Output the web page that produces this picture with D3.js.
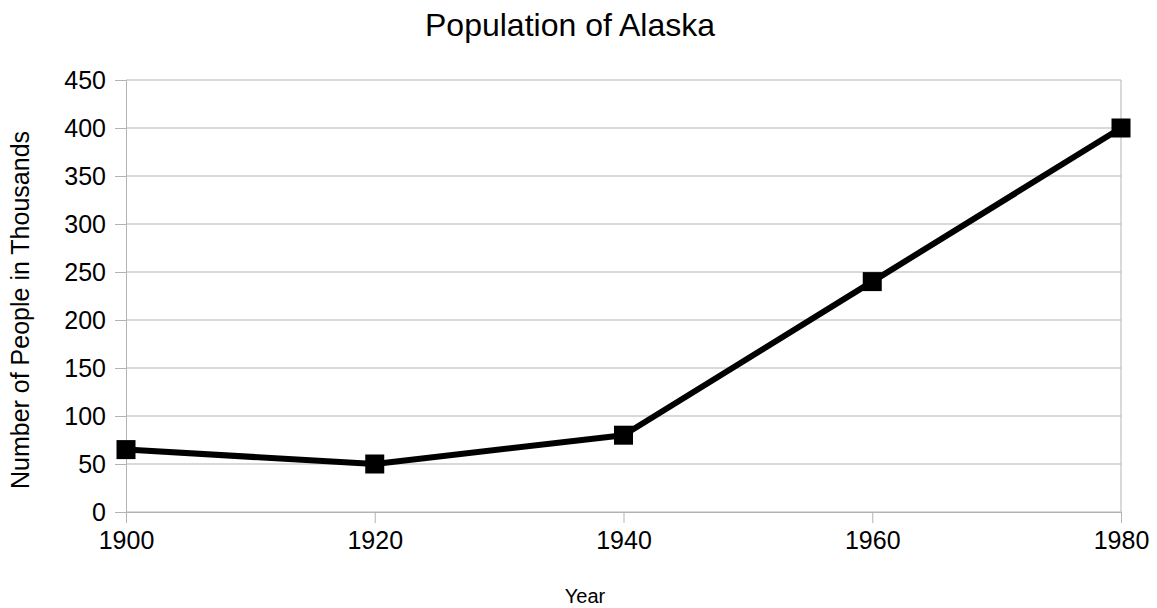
<!DOCTYPE html>
<html>
<head>
<meta charset="utf-8">
<script src="https://cdn.jsdelivr.net/npm/d3@7"></script>
<style>
    body { margin: 0; background: #fff; }
    text { font-family: "Liberation Sans", Arial, sans-serif; fill: #000; }
</style>
</head>
<body>
<div id="chart"></div>
<script>
// data
const years = [1900, 1920, 1940, 1960, 1980];
const population = [65, 50, 80, 240, 400];
const yTicks = [0, 50, 100, 150, 200, 250, 300, 350, 400, 450];

const width = 1157, height = 608;
const margin = {top: 80, right: 36, bottom: 96, left: 126};

const svg = d3.select("#chart").append("svg")
    .attr("width", width)
    .attr("height", height);

const x = d3.scaleLinear()
    .domain([1900, 1980])
    .range([margin.left, width - margin.right]);

const y = d3.scaleLinear()
    .domain([0, 450])
    .range([height - margin.bottom, margin.top]);

// title
svg.append("text")
    .attr("x", 570)
    .attr("y", 36)
    .attr("text-anchor", "middle")
    .style("font-size", "32px")
    .text("Population of Alaska");

// horizontal gridlines + y axis
const yAxis = d3.axisLeft(y)
    .tickValues(yTicks)
    .tickSize(11)
    .tickPadding(9);

const gy = svg.append("g")
    .attr("transform", `translate(${margin.left},0)`)
    .call(yAxis);
gy.select(".domain").attr("stroke", "#b3b3b3");
gy.selectAll(".tick line").attr("stroke", "#b3b3b3");
gy.selectAll(".tick text").style("font-size", "25px");

svg.append("g")
    .selectAll("line")
    .data(yTicks)
    .join("line")
    .attr("x1", margin.left)
    .attr("x2", width - margin.right)
    .attr("y1", d => y(d))
    .attr("y2", d => y(d))
    .attr("stroke", "#b3b3b3");

// right border of plot area
svg.append("line")
    .attr("x1", width - margin.right)
    .attr("x2", width - margin.right)
    .attr("y1", y(450))
    .attr("y2", y(0))
    .attr("stroke", "#b3b3b3");

// x axis
const xAxis = d3.axisBottom(x)
    .tickValues(years)
    .tickFormat(d3.format("d"))
    .tickSize(11)
    .tickPadding(8);

const gx = svg.append("g")
    .attr("transform", `translate(0,${height - margin.bottom})`)
    .call(xAxis);
gx.select(".domain").attr("stroke", "#b3b3b3");
gx.selectAll(".tick line").attr("stroke", "#b3b3b3");
gx.selectAll(".tick text").style("font-size", "25px");

// axis titles
svg.append("text")
    .attr("x", 585)
    .attr("y", 603)
    .attr("text-anchor", "middle")
    .style("font-size", "20px")
    .text("Year");

svg.append("text")
    .attr("transform", "translate(29, 310) rotate(-90)")
    .attr("text-anchor", "middle")
    .style("font-size", "25px")
    .text("Number of People in Thousands");

// line + markers
const points = years.map((yr, i) => ({year: yr, value: population[i]}));

svg.append("path")
    .datum(points)
    .attr("fill", "none")
    .attr("stroke", "#000")
    .attr("stroke-width", 6)
    .attr("stroke-linejoin", "round")
    .attr("d", d3.line().x(d => x(d.year)).y(d => y(d.value)));

const mk = 19;
svg.append("g")
    .selectAll("rect")
    .data(points)
    .join("rect")
    .attr("x", d => x(d.year) - mk / 2)
    .attr("y", d => y(d.value) - mk / 2)
    .attr("width", mk)
    .attr("height", mk)
    .attr("fill", "#000");
</script>
</body>
</html>
